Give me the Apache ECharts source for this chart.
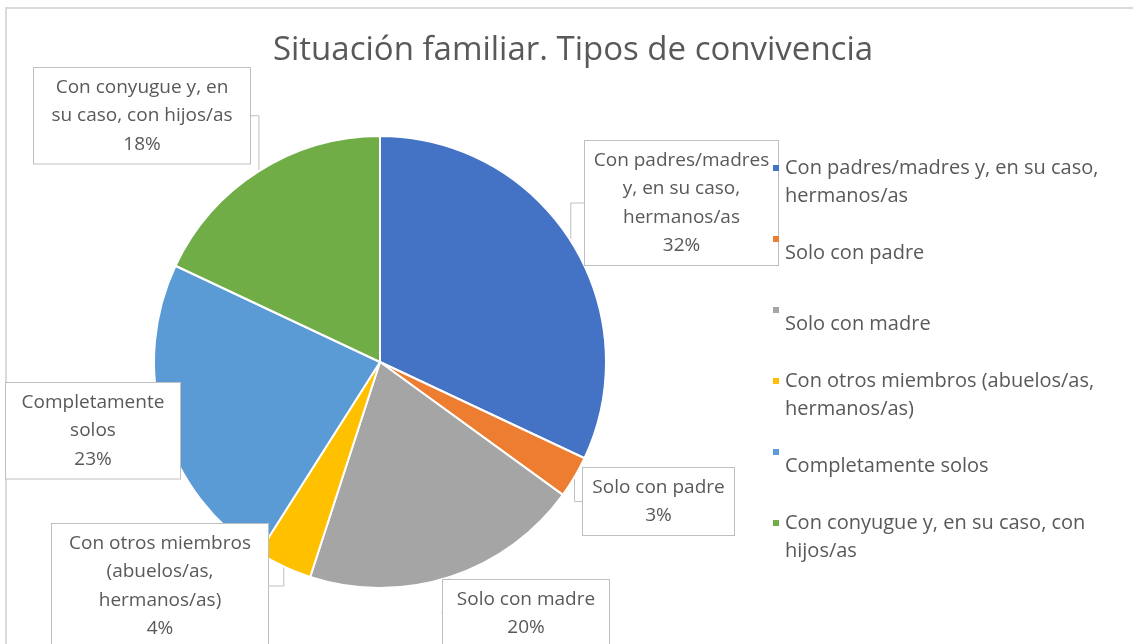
<!DOCTYPE html>
<html>
<head>
<meta charset="utf-8">
<script src="https://cdn.jsdelivr.net/npm/echarts@6/dist/echarts.min.js"></script>
<style>
  html, body { margin: 0; padding: 0; background: #fff; overflow: hidden; }
  #chart { position: absolute; left: 0; top: 0; width: 1133px; height: 644px; }
</style>
</head>
<body>
<div id="chart"></div>
<script>
// data
const categories = [
    "Con padres/madres y, en su caso, hermanos/as",
    "Solo con padre",
    "Solo con madre",
    "Con otros miembros (abuelos/as, hermanos/as)",
    "Completamente solos",
    "Con conyugue y, en su caso, con hijos/as"
];
const percents = [32, 3, 20, 4, 23, 18];
const colors = ["#4472C4", "#ED7D31", "#A5A5A5", "#FFC000", "#5B9BD5", "#70AD47"];

// wrapped texts as shown in the data labels and legend
const labelTexts = [
    "Con padres/madres\ny, en su caso,\nhermanos/as",
    "Solo con padre",
    "Solo con madre",
    "Con otros miembros\n(abuelos/as,\nhermanos/as)",
    "Completamente\nsolos",
    "Con conyugue y, en\nsu caso, con hijos/as"
];
const legendTexts = [
    "Con padres/madres y, en su caso,\nhermanos/as",
    "Solo con padre",
    "Solo con madre",
    "Con otros miembros (abuelos/as,\nhermanos/as)",
    "Completamente solos",
    "Con conyugue y, en su caso, con\nhijos/as"
];

// label box layout: left, top, box width
const labelBoxes = [
    [585, 141, 193],
    [583, 468, 151],
    [443, 580, 166],
    [52, 524, 216],
    [6, 383, 174],
    [34, 68, 216]
];

const TEXT = "#595959";
const FONT = "'Open Sans', 'Noto Sans', sans-serif";

const chart = echarts.init(document.getElementById("chart"), null, { renderer: "canvas" });

const pieData = categories.map(function (name, i)
{
    return {
        "name": name,
        "value": percents[i],
        "label": { "width": labelBoxes[i][2] - 12 }
    };
});

const legendMap = {};
categories.forEach(function (c, i) { legendMap[c] = legendTexts[i]; });

chart.setOption({
    "backgroundColor": "#fff",
    "color": colors,
    "textStyle": { "fontFamily": FONT },
    // chart area frame (only top and left edges are visible in the crop)
    "graphic": [{
        "type": "polyline",
        "silent": true,
        "z": -1,
        "shape": { "points": [[6, 700], [6, 8], [1200, 8]] },
        "style": { "stroke": "#dadada", "lineWidth": 2, "fill": null }
    }],
    "title": {
        "text": "Situación familiar. Tipos de convivencia",
        "left": 573,
        "textAlign": "center",
        "top": 34,
        "padding": 0,
        "textStyle": { "color": TEXT, "fontSize": 33, "fontWeight": "normal", "fontFamily": FONT }
    },
    "legend": {
        "orient": "vertical",
        "left": 773,
        "top": 154,
        "padding": 0,
        "itemGap": 15,
        "itemWidth": 6,
        "itemHeight": 56,
        "icon": "path://M0,0L0.01,0M0,11L6,11L6,17L0,17ZM0,56L0.01,56",
        "itemStyle": { "borderWidth": 0 },
        "selectedMode": false,
        "formatter": function (name) { return legendMap[name]; },
        "textStyle": {
            "color": TEXT, "fontSize": 20, "fontFamily": FONT,
            "lineHeight": 28, "height": 56, "padding": [0, 0, 0, 1]
        }
    },
    "series": [{
        "type": "pie",
        "center": [380, 362],
        "radius": 226,
        "startAngle": 90,
        "clockwise": true,
        "avoidLabelOverlap": false,
        "itemStyle": { "borderColor": "#fff", "borderWidth": 2 },
        "emphasis": { "disabled": true },
        "label": {
            "show": true,
            "position": "outside",
            "formatter": function (p)
            {
                return labelTexts[p.dataIndex] + "\n" + Math.round(p.percent) + "%";
            },
            "color": TEXT,
            "fontSize": 19,
            "fontFamily": FONT,
            "lineHeight": 28.5,
            "align": "center",
            "backgroundColor": "#fff",
            "borderColor": "#bfbfbf",
            "borderWidth": 1,
            "padding": [5, 6, 5, 6]
        },
        "labelLine": {
            "show": true,
            "lineStyle": { "color": "#bfbfbf", "width": 1 }
        },
        "labelLayout": function (params)
        {
            const b = labelBoxes[params.dataIndex];
            return {
                "x": b[0] + b[2] / 2,
                "y": b[1],
                "align": "center",
                "verticalAlign": "top"
            };
        },
        "data": pieData
    }]
});
</script>
</body>
</html>
